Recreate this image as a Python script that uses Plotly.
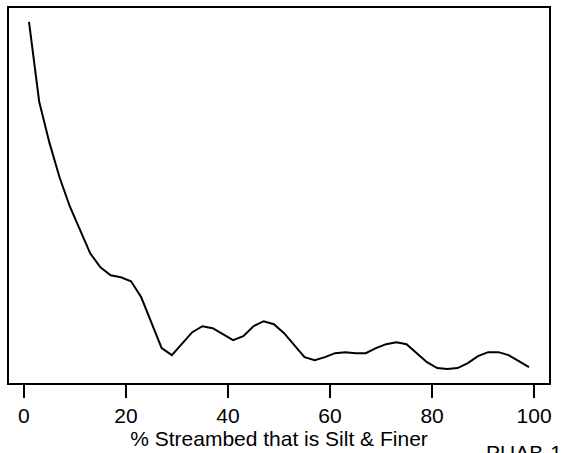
import plotly.graph_objects as go

# % streambed silt & finer (bin centres)
pct_fines = list(range(1, 100, 2))
# relative frequency (arbitrary units)
rel_freq = [3.62, 2.82, 2.41, 2.06, 1.77, 1.53, 1.30, 1.16, 1.08, 1.06,
            1.02, 0.86, 0.60, 0.35, 0.28, 0.39, 0.51, 0.57, 0.55, 0.49,
            0.43, 0.47, 0.57, 0.62, 0.59, 0.50, 0.38, 0.26, 0.23, 0.26,
            0.30, 0.31, 0.30, 0.30, 0.35, 0.39, 0.41, 0.39, 0.30, 0.21,
            0.15, 0.14, 0.15, 0.20, 0.27, 0.31, 0.31, 0.28, 0.22, 0.16]
x_ticks = [0, 20, 40, 60, 80, 100]
x_title = "% Streambed that is Silt & Finer"
corner_label = "PUAB-17"

FONT = "Liberation Sans, Arial, sans-serif"
FS = 21

lo, hi = min(rel_freq), max(rel_freq)
ypad = 0.04 * (hi - lo)
xlo, xhi = min(pct_fines), max(pct_fines)
xpad = 0.04 * (xhi - xlo)

fig = go.Figure()
fig.add_trace(go.Scatter(x=pct_fines, y=rel_freq, mode="lines",
                         line=dict(color="black", width=2),
                         hoverinfo="skip", showlegend=False))

fig.update_layout(
    width=562, height=453,
    margin=dict(l=9, r=13, t=8, b=70, autoexpand=False),
    paper_bgcolor="white", plot_bgcolor="white",
    font=dict(family=FONT, size=FS, color="black"),
    xaxis=dict(range=[xlo - xpad, xhi + xpad], tickvals=x_ticks,
               ticktext=[str(v) for v in x_ticks],
               ticks="outside", ticklen=13, tickwidth=2, tickcolor="black",
               showline=True, linewidth=2, linecolor="black", mirror=True,
               showgrid=False, zeroline=False, automargin=False,
               tickfont=dict(family=FONT, size=FS),
               title=dict(text=x_title, font=dict(family=FONT, size=FS), standoff=0)),
    yaxis=dict(range=[lo - ypad, hi + ypad], showticklabels=False, ticks="",
               showline=True, linewidth=2, linecolor="black", mirror=True,
               showgrid=False, zeroline=False, automargin=False),
)
fig.add_annotation(text=corner_label, xref="paper", yref="paper",
                   x=0.8805, y=-0.150, xanchor="left", yanchor="top",
                   showarrow=False, font=dict(family=FONT, size=FS, color="black"))

fig.write_html("out.html", config={"displayModeBar": False, "staticPlot": True})

# remove the browser's default page margin so the figure sits at (0, 0)
with open("out.html", "r", encoding="utf-8") as f:
    html = f.read()
html = html.replace("<body>", '<body style="margin:0;padding:0;overflow:hidden">', 1)
with open("out.html", "w", encoding="utf-8") as f:
    f.write(html)
